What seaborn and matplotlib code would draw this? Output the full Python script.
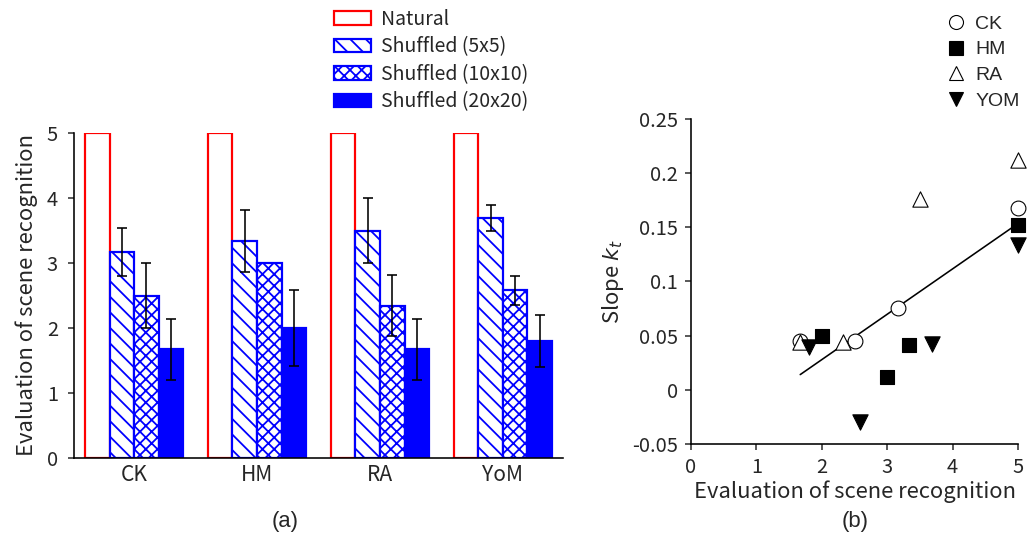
import numpy as np
import pandas as pd
import seaborn as sns
import matplotlib
matplotlib.use("Agg")
import matplotlib.pyplot as plt
from matplotlib.patches import Patch
from matplotlib.lines import Line2D

# ---------------- data ----------------
subjects = ["CK", "HM", "RA", "YoM"]
conditions = ["Natural", "Shuffled (5x5)", "Shuffled (10x10)", "Shuffled (20x20)"]
# mean evaluation per subject (rows: conditions)
eval_natural = [5.0, 5.0, 5.0, 5.0]
eval_5x5 = [3.17, 3.34, 3.50, 3.69]
eval_10x10 = [2.50, 3.00, 2.34, 2.58]
eval_20x20 = [1.67, 2.00, 1.67, 1.80]
err_natural = [0.0, 0.0, 0.0, 0.0]
err_5x5 = [0.375, 0.48, 0.50, 0.20]
err_10x10 = [0.50, 0.0, 0.47, 0.22]
err_20x20 = [0.47, 0.58, 0.47, 0.40]

# panel (b): slope k_t vs evaluation
groups_b = ["CK", "HM", "RA", "YOM"]
ck_x = [5.0, 3.17, 2.50, 1.67]
ck_y = [0.168, 0.076, 0.045, 0.0455]
hm_x = [5.0, 3.33, 3.00, 2.00]
hm_y = [0.152, 0.0415, 0.0123, 0.050]
ra_x = [5.0, 3.50, 2.33, 1.67]
ra_y = [0.212, 0.176, 0.0437, 0.044]
yom_x = [5.0, 3.69, 2.58, 1.80]
yom_y = [0.134, 0.042, -0.030, 0.040]

# ---------------- style ----------------
DPI = 140
def pt(px):
    return px * 72.0 / DPI

sns.set_style("ticks")
plt.rcParams["font.family"] = ["Noto Sans CJK JP", "DejaVu Sans"]
plt.rcParams["hatch.linewidth"] = pt(1.8)

fig = plt.figure(figsize=(1028 / DPI, 548 / DPI), dpi=DPI)

# ---------------- panel (a) ----------------
ax1 = fig.add_axes([74 / 1028, 1 - 458 / 548, 489 / 1028, (458 - 133) / 548])
vals = [eval_natural, eval_5x5, eval_10x10, eval_20x20]
errs = [err_natural, err_5x5, err_10x10, err_20x20]
df = pd.DataFrame({
    "subject": np.tile(subjects, len(conditions)),
    "condition": np.repeat(conditions, len(subjects)),
    "value": np.concatenate(vals),
})
sns.barplot(data=df, x="subject", y="value", hue="condition",
            order=subjects, hue_order=conditions, errorbar=None,
            width=0.8, legend=False, ax=ax1)

faces = ["white", "white", "white", "#0000ff"]
edges = ["#ff0000", "#0000ff", "#0000ff", "#0000ff"]
hatches = [None, "\\\\\\", "xxxx", None]
for cont, fc, ec, h, e in zip(ax1.containers, faces, edges, hatches, errs):
    xs, hs = [], []
    for p in cont.patches:
        p.set_facecolor(fc)
        p.set_edgecolor(ec)
        p.set_linewidth(pt(2.2))
        if h:
            p.set_hatch(h)
        xs.append(p.get_x() + p.get_width() / 2)
        hs.append(p.get_height())
    xs = np.array(xs); hs = np.array(hs); e = np.array(e)
    m = e > 0
    if m.any():
        ax1.errorbar(xs[m], hs[m], yerr=e[m], fmt="none", ecolor="black",
                     elinewidth=pt(1.6), capsize=pt(4.5), capthick=pt(1.6), zorder=5)

ax1.set_xlim(-0.49, 3.49)
ax1.set_ylim(0, 5)
ax1.set_yticks([0, 1, 2, 3, 4, 5])
ax1.set_xlabel("")
ax1.set_ylabel("Evaluation of scene recognition", fontsize=pt(22), labelpad=pt(9))
ax1.tick_params(axis="y", labelsize=pt(20), length=pt(6), width=pt(1.5), pad=pt(10))
ax1.tick_params(axis="x", labelsize=pt(21), length=0, pad=pt(6))
for s in ["left", "bottom"]:
    ax1.spines[s].set_linewidth(pt(1.6))
    ax1.spines[s].set_color("black")
sns.despine(ax=ax1)

handles_a = [Patch(facecolor=fc, edgecolor=ec, hatch=h, linewidth=pt(2.2))
             for fc, ec, h in zip(faces, edges, hatches)]
fig.legend(handles_a, conditions, loc="upper left",
           bbox_to_anchor=(330 / 1028, 1 - 5 / 548), frameon=False,
           fontsize=pt(19.5), handlelength=1.9, handleheight=0.7,
           handletextpad=0.5, labelspacing=0.33, borderaxespad=0, borderpad=0.2)

fig.text(285 / 1028, 1 - 522 / 548, "(a)", ha="center", va="center",
         fontsize=pt(22), family=["Liberation Sans", "DejaVu Sans"])

# ---------------- panel (b) ----------------
ax2 = fig.add_axes([691 / 1028, 1 - 444 / 548, 327 / 1028, (444 - 119) / 548])
xs_b = [ck_x, hm_x, ra_x, yom_x]
ys_b = [ck_y, hm_y, ra_y, yom_y]
markers = ["o", "s", "^", "v"]
mfaces = ["white", "black", "white", "black"]
msizes = [58, 52, 62, 62]

all_x = np.concatenate(xs_b)
all_y = np.concatenate(ys_b)
sns.regplot(x=all_x, y=all_y, scatter=False, ci=None, truncate=True,
            line_kws=dict(color="black", linewidth=pt(1.6)), ax=ax2)

for gx, gy, mk, mf, ms in zip(xs_b, ys_b, markers, mfaces, msizes):
    sns.scatterplot(x=gx, y=gy, marker=mk, s=ms, facecolor=mf,
                    edgecolor="black", linewidth=pt(1.1), zorder=4,
                    clip_on=False, ax=ax2)

ax2.set_xlim(0, 5)
ax2.set_ylim(-0.05, 0.25)
ax2.set_xticks([0, 1, 2, 3, 4, 5])
ax2.set_yticks([-0.05, 0, 0.05, 0.1, 0.15, 0.2, 0.25])
ax2.set_yticklabels(["-0.05", "0", "0.05", "0.1", "0.15", "0.2", "0.25"])
ax2.tick_params(axis="both", labelsize=pt(20), length=pt(6), width=pt(1.5), pad=pt(7))
ax2.set_xlabel("Evaluation of scene recognition", fontsize=pt(22), labelpad=pt(2))
ax2.set_ylabel("Slope $k_t$", fontsize=pt(22), labelpad=pt(6))
for s in ["left", "bottom"]:
    ax2.spines[s].set_linewidth(pt(1.6))
    ax2.spines[s].set_color("black")
sns.despine(ax=ax2)

handles_b = [Line2D([], [], linestyle="none", marker=mk, markersize=pt(14),
                    markerfacecolor=mf, markeredgecolor="black",
                    markeredgewidth=pt(1.1))
             for mk, mf in zip(markers, mfaces)]
fig.legend(handles_b, groups_b, loc="upper left",
           bbox_to_anchor=(943 / 1028, 1 - 11 / 548), frameon=False,
           handlelength=0.9, handletextpad=0.55,
           labelspacing=0.42, borderaxespad=0, borderpad=0.2,
           prop=dict(family=["Liberation Sans", "DejaVu Sans"], size=pt(19.5)))

fig.text(855 / 1028, 1 - 522 / 548, "(b)", ha="center", va="center",
         fontsize=pt(22), family=["Liberation Sans", "DejaVu Sans"])

fig.savefig("out.png", dpi=DPI, facecolor="white")
